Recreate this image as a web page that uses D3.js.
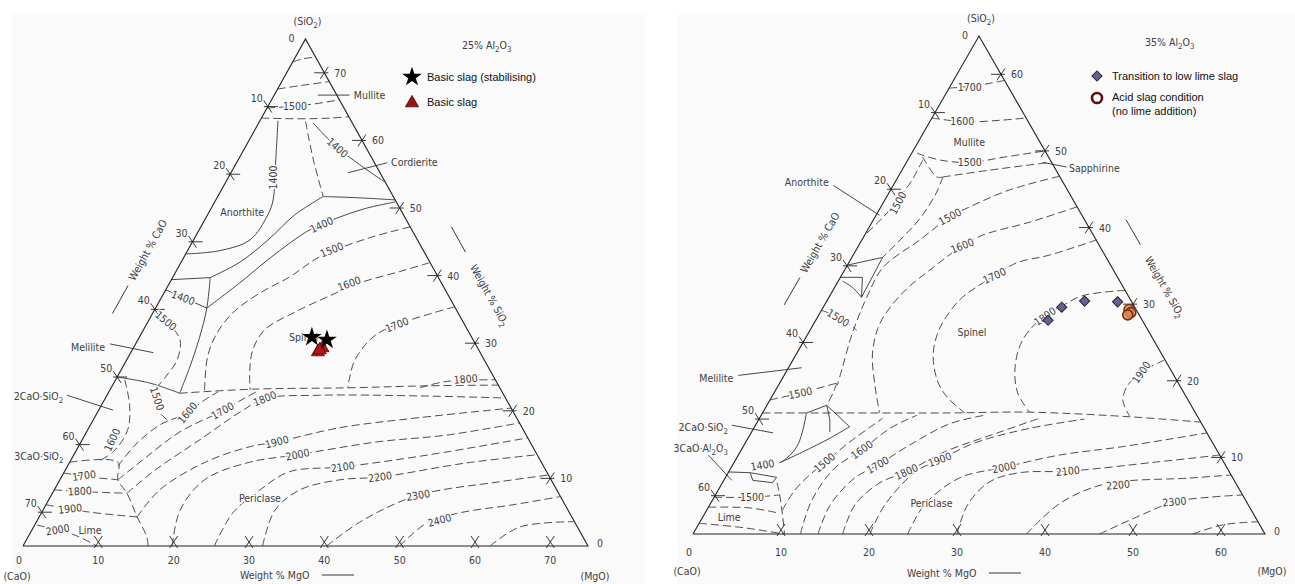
<!DOCTYPE html>
<html>
<head>
<meta charset="utf-8">
<script src="https://cdn.jsdelivr.net/npm/d3@7"></script>
<style>
  body { margin: 0; background: #fff; }
  svg text { font-family: "DejaVu Sans Condensed", "Liberation Sans Narrow", "Roboto", sans-serif; font-stretch: condensed; font-size: 10.5px; fill: #404040; }
  svg .legend text { font-family: "Liberation Sans", Arial, sans-serif; font-stretch: normal; font-size: 11px; fill: #111; }
</style>
</head>
<body>
<svg id="chart" width="1295" height="584"></svg>
<script>
// Compositions are [wt% MgO, wt% SiO2]; CaO is the rest of the section total.

// ---- 25% Al2O3 section (left) ----
const leftTicks = [10, 20, 30, 40, 50, 60, 70];

const leftDashed = [
  [[0,71.6],[1.2,72.1],[2.7,72.3]],
  [[0,67.6],[2.7,68.1],[6.3,68.7]],
  [[0,64.8],[2.9,65],[6,65.4],[9,66]],
  [[0,63.3],[5.2,63.2],[9.1,63.3],[11.5,63.5]],
  [[6.1,62.8],[10,57.1],[14,51.7]],
  [[0.4,34.2],[3.1,32.7],[5.6,30.5],[6.7,27.5],[6.4,24.9],[6.1,22.8],[7.9,20.1],[9.9,18.6]],
  [[27.8,47.2],[23.2,45.6],[18,42.8],[15.5,39.8],[12.7,37.4],[10.6,34.5],[10,31.5],[10.5,28],[12.7,22.8]],
  [[33,41.9],[29.7,40.6],[25.2,38.9],[22.2,37],[18.8,34.6],[16.1,32],[16,29],[17.1,26],[18.6,23.1]],
  [[39.6,35.4],[34.6,33.4],[32,32],[30.8,30.5],[30.3,27.5],[31,24.6],[31.4,23.4]],
  [[9.5,22.6],[18.9,23.2],[31.4,23.4],[42.1,23.7],[51.2,23.8]],
  [[41,23.4],[43.8,24.3],[50.4,24.6]],
  [[6.7,11.8],[7.4,14.9],[9.2,17.9],[12,19.7],[13.3,21.6],[14.5,22.8]],
  [[7.7,9.8],[9.7,13],[12.4,16.9],[16.5,20],[18.5,21.9],[19.7,22.9]],
  [[9.9,7.8],[11.9,11.2],[15.6,15.7],[18.9,19.8],[21.2,21.8],[28.2,22.3],[41.6,22.2],[53,21.9]],
  [[13,4.3],[14,8.3],[18,12.4],[22.8,14.7],[26,15.4],[33.3,17.5],[43.2,19],[54.6,20.4]],
  [[19.8,0],[18.2,5.3],[19.2,9.8],[23.9,12.4],[29.7,13.5],[39.3,15.4],[48,16.4],[56.8,18.2]],
  [[25.4,0],[25.4,4.9],[27.3,8.3],[29.9,11],[36.6,11.7],[47.2,13.5],[59,16]],
  [[31.8,0],[30.8,5.3],[32.6,8.3],[37.2,9.8],[42.3,10.2],[52.8,12.3],[61.5,13.5]],
  [[40.3,0],[43.2,3.8],[48.7,7.5],[58.5,9.5],[64.5,10.5]],
  [[50,0],[51.9,3.4],[55.5,4.9],[62,6.1],[67.6,7.3]],
  [[62,0],[64.5,2.8],[71.3,3.6]],
  [[0,12.4],[6.4,12.4],[7.7,9.8],[9.9,7.8],[13,4.3],[15.8,1.3],[16.6,0]],
  [[1.2,24.6],[3.7,20.9],[5.3,17.2],[5.1,14.2],[3.7,12.4]],
  [[0,10.8],[3.8,10.2],[7.7,9.8]],
  [[0,8.3],[4.9,8],[9.9,7.8]],
  [[0,6.1],[6.4,5],[13,4.3]],
  [[0.3,3.1],[6.1,1.6],[9.8,0]]
];

const leftSolid = [
  [[2.4,62.9],[5,57.1],[7.6,51.2],[8,49],[7.5,45.3],[4.3,43.7],[0,43.2]],
  [[7.2,62.6],[11.7,59.3],[16.5,56.4],[21,53.9]],
  [[14,51.7],[19,51.5],[23.8,51.2]],
  [[5,39.7],[7.8,42],[9.9,45.3],[11.6,49],[14,51.7]],
  [[6.8,35.2],[9.3,38.9],[11.5,42.6],[14.7,46.8],[17.4,48.5],[20.4,49.9],[24,50.9]],
  [[5,39.7],[6.8,35.2],[8,30.9],[8.9,26.5],[9.5,22.6]],
  [[0,25],[4.8,24.1],[9.5,22.6]]
];

const leftStraight = [
  [[0,37.9],[6.8,35.2]],
  [[0,39.4],[5,39.7]],
  [[5.8,66.7],[10,66.7]],
  [[15.5,55.2],[20,56.7]],
  [[-3.4,29.9],[3,28.6]],
  [[-5.3,22.3],[1.9,20.1]]
];

const leftIsoLabels = [
  ["1500",3.6,65,0], ["1400",6,54.5,-90], ["1400",12.3,58.9,42], ["1400",2.9,36.7,20],
  ["1400",15.9,47.5,-25], ["1500",2.3,33.3,40], ["1500",6.9,21.8,72], ["1500",19.1,43.8,-22],
  ["1600",23.9,38.8,-20], ["1700",33.3,32.7,-22], ["1800",46.4,24.7,-5], ["1600",4,15.7,-65],
  ["1600",12,19.7,-50], ["1700",16.5,20,-30], ["1800",21.2,21.8,-22], ["1900",26,15.4,-15],
  ["2000",29.7,13.5,-12], ["2100",36.6,11.7,-8], ["2200",42.3,10.2,-8], ["2300",48.7,7.5,-10],
  ["2400",53.4,3.8,-15], ["1700",2.9,10.4,-8], ["1800",3.5,8.1,-3], ["1900",3.5,5.5,-6],
  ["2000",3.4,2.4,-10]
];

const leftPhaseLabels = [
  ["Mullite",10.3,66.7,"start"], ["Cordierite",20.2,56.8,"start"], ["Anorthite",4.4,49.4,"middle"],
  ["Melilite",-3.6,29.5,"end"], ["2CaO·SiO_2",-5.5,22.2,"end"], ["3CaO·SiO_2",-1,13.3,"end"],
  ["Spinel",19.6,30.9,"start"], ["Periclase",27.9,7.1,"middle"], ["Lime",7.7,2.4,"middle"]
];

const leftStars = [[22.9,30.9],[25.1,30.5]];
const leftTriangles = [[24.8,28.7],[25.1,29.3],[24.9,29]];

// ---- 35% Al2O3 section (right) ----
const rightTicks = [10, 20, 30, 40, 50, 60];

const rightDashed = [
  [[0,58.2],[2.8,58.5],[5.8,59.2]],
  [[0,54.3],[4,53.8],[7.9,54],[10.7,54.3]],
  [[0.6,49.7],[3.7,48.8],[7.2,48.5],[10.8,49.2],[15,50]],
  [[5.1,46.6],[10,47.5],[16.3,48.5]],
  [[1.5,49.2],[4.4,46.6],[5.1,46.6]],
  [[1.7,48.8],[1.8,46.2],[1.6,44.6],[1.2,42.3],[0.7,40.7],[0,39]],
  [[5.1,46.6],[5.4,44.2],[5.2,41.2],[4.5,38.8],[3.5,36.1]],
  [[18.3,46.7],[13.5,44.9],[10.1,42.7],[8.5,41.4],[6.6,38.4],[4.2,34.8],[4.3,30.9],[4.7,27.9],[5.2,25.3],[6.1,21.8],[6.7,19.4]],
  [[22.3,42.7],[17.9,40.7],[13.4,39],[11.8,37.6],[9.9,34.8],[8.1,31.5],[7.5,27.5],[8.6,23.6],[11.1,19.2],[13.3,15.8]],
  [[26.7,38.4],[22.3,36.4],[19.1,35.4],[17.4,33.7],[16,32.1],[15,30.5],[14.6,27],[15.5,23.6],[17.7,20.1],[19.9,17.9],[23,15.8]],
  [[33.2,31.8],[28.7,31.1],[26.9,29.6],[25.6,28.3],[24.8,25.3],[25.7,21.8],[27.7,18.4],[30.3,15.9]],
  [[42.2,22.7],[40.4,21.1],[39.7,19.4],[40.1,17.5],[41.9,15.4]],
  [[0,15.8],[9.9,15.8],[21.3,15.8],[30.3,15.9],[42,15.3],[50.4,14.6]],
  [[0,17.5],[3,18.4],[6.5,19.7]],
  [[6.5,19.7],[6.7,18.5],[6.8,16.8]],
  [[0,29.2],[2.6,28.2],[5.3,26.6]],
  [[0,4.8],[4.3,4.8],[7.3,5.1]],
  [[6.2,6.7],[7.3,5.1],[9.1,2.2],[10.4,0]],
  [[0,3.5],[4.8,3.4],[8.5,2.7]],
  [[0,1.4],[5.5,0.8],[10.3,0]],
  [[8.6,3.1],[8.7,5.7],[9.4,7.7],[10.3,9.3],[11.8,12],[14,15.1]],
  [[12.2,0],[11.3,4.4],[11.8,8.6],[13.7,11],[15.5,13.8],[17.7,15.5]],
  [[14.2,0],[13.7,3.8],[14.7,7.3],[16.5,9],[18.8,11.6],[22,14.4],[25.4,15.5]],
  [[17,0],[16.5,3.8],[17.9,6.7],[20.2,8.1],[23.2,10.7],[28.2,13.3],[31.8,15.1]],
  [[20.1,0],[19.9,3.8],[21.2,8.1],[23.2,9.7],[26.1,11.9],[31.4,13.8],[37,15]],
  [[24.4,0],[24.4,3.8],[26.6,7.3],[31,8.7],[36.5,10.3],[43.1,11.4],[51.8,13.2]],
  [[30,0],[29.3,3.8],[30.3,6.8],[33.1,8],[38.5,8.2],[48,9.4],[54.7,10.3]],
  [[37.9,0],[39.7,4],[43.5,6.5],[52.8,7.3],[57.3,7.7]],
  [[46.2,0],[49.3,2.2],[52.6,4.2],[56.3,4.8],[59.9,5.1]],
  [[56.8,0],[59.6,1.2],[63.4,1.6]]
];

const rightSolid = [
  [[5,15.8],[5.8,13.2],[6.1,11.4],[5.7,9.9],[5.2,9.3]],
  [[10.8,14],[9.3,12.5],[7.1,10.7],[5.2,9.3]],
  [[0.5,33],[2,32.2],[3.7,30.9]]
];

const rightStraight = [
  [[0,35.1],[3.5,36.1],[3.7,30.9]],
  [[0,33.5],[2.5,33.5],[3.7,30.9]],
  [[5,15.8],[6.8,16.8],[10.8,14]],
  [[6.8,16.8],[8.1,14.9],[8.9,13.3]],
  [[0,8.1],[2.5,8],[5.8,7.4],[5.7,6.7],[3.3,7],[2.5,8]],
  [[15.5,48.5],[18.5,47.9]],
  [[-6.8,45.5],[0.4,41.6]],
  [[-5.2,20.7],[1.5,21.7]],
  [[-2.7,14.2],[2.5,13.2]],
  [[-3.4,10.3],[0.9,7]]
];

const rightIsoLabels = [
  ["1700",2.3,58.3,0], ["1600",3.7,53.8,0], ["1500",7.2,48.5,0], ["1500",1.7,43.2,-62],
  ["1500",8.5,41.4,-28], ["1600",11.8,37.6,-22], ["1700",17.4,33.7,-25], ["1800",25.8,28.4,-35],
  ["1900",40.4,21.1,-55], ["1500",2.4,28.2,32], ["1500",3,18.4,-12], ["1400",3.4,9,-10],
  ["1500",4.3,4.8,0], ["1500",10.3,9.3,-40], ["1600",13.7,11,-35], ["1700",16.5,9,-30],
  ["1800",20.2,8.1,-25], ["1900",23.2,9.7,-20], ["2000",31,8.7,-12], ["2100",38.5,8.2,-6],
  ["2200",45.1,6.4,-5], ["2300",52.6,4.2,-5]
];

const rightPhaseLabels = [
  ["Mullite",5.8,51.2,"middle"], ["Sapphirine",18.6,47.8,"start"], ["Anorthite",-7.3,45.9,"end"],
  ["Spinel",18.5,26.4,"middle"], ["Melilite",-5.4,20.4,"end"], ["2CaO·SiO_2",-2.8,14,"end"],
  ["3CaO·Al_2O_3",-1.4,11.2,"end"], ["Periclase",25.1,4,"middle"], ["Lime",3,2.2,"middle"]
];

const rightDiamonds = [[26.4,27.9],[27.1,29.6],[29.3,30.4],[33.1,30.3]];
const rightCircles = [[34.9,29.3],[35.3,28.9],[35.1,28.6]];

const bg = "#fafafa";
const svg = d3.select("#chart");

// text with "_n" subscripts; the shift is carried onto the next run of text
function chem(sel, str) {
  let shift = 0;
  str.split(/(_\d)/).filter(s => s).forEach(part => {
    if (part[0] === "_") {
      sel.append("tspan").attr("dy", 3 - shift).attr("font-size", "0.75em").text(part[1]);
      shift = 3;
    } else {
      const t = sel.append("tspan").text(part);
      if (shift) t.attr("dy", -shift);
      shift = 0;
    }
  });
}

function drawPanel(p, d) {
  const g = svg.append("g");
  const T = p.total;
  const x = d3.scaleLinear().domain([0, T]).range([p.left, p.right]);
  const y = d3.scaleLinear().domain([0, T]).range([p.base, p.top]);
  const px = c => x(c[0] + c[1] / 2), py = c => y(c[1]);
  const curve = d3.line().x(px).y(py).curve(d3.curveCatmullRom.alpha(0.5));
  const poly = d3.line().x(px).y(py);

  g.append("rect").attr("x", p.box[0]).attr("y", 14).attr("width", p.box[1] - p.box[0])
    .attr("height", 570).attr("fill", bg);

  g.append("g").selectAll("path").data(d.dashed).join("path")
    .attr("d", curve).attr("fill", "none").attr("stroke", "#3a3a3a")
    .attr("stroke-width", 0.9).attr("stroke-dasharray", "8,4");
  g.append("g").selectAll("path").data(d.solid).join("path")
    .attr("d", curve).attr("fill", "none").attr("stroke", "#333").attr("stroke-width", 0.9);
  g.append("g").selectAll("path").data(d.straight).join("path")
    .attr("d", poly).attr("fill", "none").attr("stroke", "#333").attr("stroke-width", 0.9);

  // triangle frame
  g.append("path").attr("d", poly([[0, 0], [T, 0], [0, T], [0, 0]]))
    .attr("fill", "none").attr("stroke", "#222").attr("stroke-width", 1.1);

  // ticks
  const tk = g.append("g").attr("stroke", "#222").attr("stroke-width", 0.9);
  const tl = g.append("g");
  p.ticks.forEach(v => {
    const L = [px([0, T - v]), py([0, T - v])];
    const R = [px([T - v, v]), py([T - v, v])];
    const B = [px([v, 0]), py([v, 0])];
    tk.append("line").attr("x1", L[0] - 4).attr("y1", L[1]).attr("x2", L[0] + 10).attr("y2", L[1]);
    tk.append("line").attr("x1", L[0] - 4).attr("y1", L[1] - 6).attr("x2", L[0] + 4).attr("y2", L[1] + 6);
    tk.append("line").attr("x1", R[0] - 10).attr("y1", R[1]).attr("x2", R[0] + 4).attr("y2", R[1]);
    tk.append("line").attr("x1", R[0] + 4).attr("y1", R[1] - 6).attr("x2", R[0] - 4).attr("y2", R[1] + 6);
    tk.append("line").attr("x1", B[0] - 4).attr("y1", B[1] + 2).attr("x2", B[0] + 4).attr("y2", B[1] - 10);
    tk.append("line").attr("x1", B[0] + 4).attr("y1", B[1] + 2).attr("x2", B[0] - 4).attr("y2", B[1] - 10);
    tl.append("text").attr("x", L[0] - 5).attr("y", L[1] - 5).attr("text-anchor", "end").text(v);
    tl.append("text").attr("x", R[0] + 10).attr("y", R[1] + 4).text(v);
    tl.append("text").attr("x", B[0]).attr("y", p.numY).attr("text-anchor", "middle").text(v);
  });

  const A = [px([0, T]), py([0, T])], BL = [px([0, 0]), py([0, 0])], BR = [px([T, 0]), py([T, 0])];
  tl.append("text").attr("x", A[0] - 14).attr("y", A[1] + 3).attr("text-anchor", "middle").text("0");
  tl.append("text").attr("x", BL[0] - 4).attr("y", p.numY).attr("text-anchor", "middle").text("0");
  tl.append("text").attr("x", BR[0] + 12).attr("y", BR[1] + 1).attr("text-anchor", "middle").text("0");
  chem(tl.append("text").attr("x", A[0] + 2).attr("y", A[1] - 14).attr("text-anchor", "middle"), "(SiO_2)");
  tl.append("text").attr("x", BL[0] - 6).attr("y", p.nameY).attr("text-anchor", "middle").text("(CaO)");
  tl.append("text").attr("x", BR[0] + 7).attr("y", p.nameY).attr("text-anchor", "middle").text("(MgO)");

  // axis titles
  const bx = p.left + (p.right - p.left) * p.mgoAt;
  tl.append("text").attr("x", bx).attr("y", p.titleY).text("Weight % MgO");
  tk.append("line").attr("x1", bx + 82).attr("x2", bx + 114).attr("y1", p.titleY - 4).attr("y2", p.titleY - 4);

  const edge = (P, Q, f, off, side) => {
    const len = Math.hypot(Q[0] - P[0], Q[1] - P[1]);
    const u = [(Q[0] - P[0]) / len, (Q[1] - P[1]) / len];
    const n = side < 0 ? [u[1], -u[0]] : [-u[1], u[0]];
    return [P[0] + u[0] * len * f + n[0] * off, P[1] + u[1] * len * f + n[1] * off];
  };
  const angL = Math.atan2(A[1] - BL[1], A[0] - BL[0]) * 180 / Math.PI;
  const angR = Math.atan2(BR[1] - A[1], BR[0] - A[0]) * 180 / Math.PI;
  const cL = edge(A, BL, 0.45, 35, 1);
  tl.append("text").attr("transform", `translate(${cL}) rotate(${angL})`)
    .attr("text-anchor", "middle").attr("dy", "0.35em").text("Weight % CaO");
  const l1 = edge(A, BL, 0.52, 35, 1), l2 = edge(A, BL, 0.575, 35, 1);
  tk.append("line").attr("x1", l1[0]).attr("y1", l1[1]).attr("x2", l2[0]).attr("y2", l2[1]);
  const cR = edge(A, BR, 0.54, 36, -1);
  chem(tl.append("text").attr("transform", `translate(${cR}) rotate(${angR})`)
    .attr("text-anchor", "middle").attr("dy", "0.35em"), "Weight % SiO_2");
  const r1 = edge(A, BR, 0.405, 36, -1), r2 = edge(A, BR, 0.455, 36, -1);
  tk.append("line").attr("x1", r1[0]).attr("y1", r1[1]).attr("x2", r2[0]).attr("y2", r2[1]);

  // isotherm labels, with a halo that breaks the line under them
  g.append("g").selectAll("text").data(d.iso).join("text")
    .attr("transform", e => `translate(${px([e[1], e[2]])},${py([e[1], e[2]])}) rotate(${e[3]})`)
    .attr("text-anchor", "middle").attr("dy", "0.35em")
    .attr("stroke", bg).attr("stroke-width", 3).attr("paint-order", "stroke")
    .text(e => e[0]);

  g.append("g").selectAll("text").data(d.phase).join("text")
    .attr("x", e => px([e[1], e[2]]) + (e[3] === "start" ? 2 : e[3] === "end" ? -2 : 0))
    .attr("y", e => py([e[1], e[2]]) + 4)
    .attr("text-anchor", e => e[3])
    .attr("stroke", bg).attr("stroke-width", 3).attr("paint-order", "stroke")
    .each(function (e) { chem(d3.select(this), e[0]); });

  chem(g.append("text").attr("x", p.title[0]).attr("y", p.title[1]).attr("fill", "#555"), p.titleText);
  return { g, px, py };
}

const left = drawPanel(
  { total: 75, left: 23, right: 588, base: 546, top: 39, box: [12, 645], ticks: leftTicks,
    numY: 564, nameY: 580, titleY: 579, mgoAt: 0.384, title: [462, 49], titleText: "25% Al_2O_3" },
  { dashed: leftDashed, solid: leftSolid, straight: leftStraight, iso: leftIsoLabels, phase: leftPhaseLabels });

const right = drawPanel(
  { total: 65, left: 693, right: 1265, base: 534, top: 36, box: [677, 1295], ticks: rightTicks,
    numY: 556, nameY: 575, titleY: 577, mgoAt: 0.374, title: [1145, 46], titleText: "35% Al_2O_3" },
  { dashed: rightDashed, solid: rightSolid, straight: rightStraight, iso: rightIsoLabels, phase: rightPhaseLabels });

// markers
const star = d3.symbol().type(d3.symbolStar).size(120);
const tri = d3.symbol().type(d3.symbolTriangle).size(75);
const sq = d3.symbol().type(d3.symbolSquare).size(52);

left.g.append("g").selectAll("path").data(leftTriangles).join("path")
  .attr("d", tri).attr("transform", c => `translate(${left.px(c)},${left.py(c)})`)
  .attr("fill", "#b01818").attr("stroke", "#5a0000").attr("stroke-width", 0.8);
left.g.append("g").selectAll("path").data(leftStars).join("path")
  .attr("d", star).attr("transform", c => `translate(${left.px(c)},${left.py(c)})`)
  .attr("fill", "#000");

right.g.append("g").selectAll("path").data(rightDiamonds).join("path")
  .attr("d", sq).attr("transform", c => `translate(${right.px(c)},${right.py(c)}) rotate(45)`)
  .attr("fill", "#62628f").attr("stroke", "#25253a").attr("stroke-width", 1);
right.g.append("g").selectAll("circle").data(rightCircles).join("circle")
  .attr("cx", right.px).attr("cy", right.py).attr("r", 5)
  .attr("fill", "#d98c4e").attr("stroke", "#7a2e10").attr("stroke-width", 1.6).attr("fill-opacity", 0.85);

// legends
const lg1 = svg.append("g").attr("class", "legend");
lg1.append("path").attr("d", star).attr("transform", "translate(412,77)").attr("fill", "#000");
lg1.append("text").attr("x", 427).attr("y", 81).text("Basic slag (stabilising)");
lg1.append("path").attr("d", tri).attr("transform", "translate(412,103)")
  .attr("fill", "#9a1414").attr("stroke", "#4a0000").attr("stroke-width", 0.8);
lg1.append("text").attr("x", 427).attr("y", 106).text("Basic slag");

const lg2 = svg.append("g").attr("class", "legend");
lg2.append("path").attr("d", sq).attr("transform", "translate(1097,76) rotate(45)")
  .attr("fill", "#62628f").attr("stroke", "#25253a").attr("stroke-width", 1);
lg2.append("text").attr("x", 1112).attr("y", 80).text("Transition to low lime slag");
lg2.append("circle").attr("cx", 1097).attr("cy", 98).attr("r", 5)
  .attr("fill", "#fff").attr("stroke", "#5c1010").attr("stroke-width", 2.6);
lg2.append("text").attr("x", 1112).attr("y", 101).text("Acid slag condition");
lg2.append("text").attr("x", 1112).attr("y", 115).text("(no lime addition)");
</script>
</body>
</html>
